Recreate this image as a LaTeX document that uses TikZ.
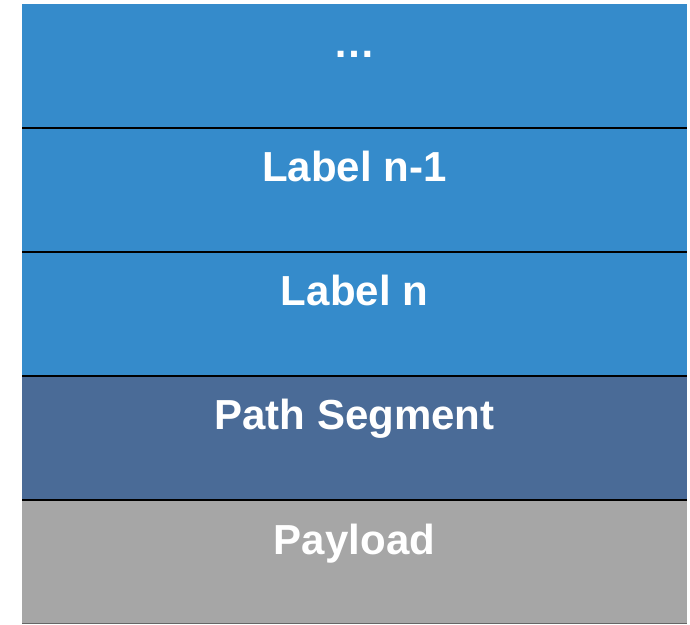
\documentclass[tikz,border=0pt]{standalone}
\usepackage{fontspec}
\setmainfont{Liberation Sans}
\usetikzlibrary{positioning}
\definecolor{labelblue}{HTML}{358BCB}
\definecolor{segblue}{HTML}{4A6B97}
\definecolor{payloadgray}{HTML}{A6A6A6}
\begin{document}
\begin{tikzpicture}[x=1pt,y=1pt,
		layer/.style = {minimum width=665pt, minimum height=124pt, inner sep=0pt, outer sep=0pt},
		layertext/.style = {anchor=base, text=white, font=\fontsize{42}{50}\selectfont\bfseries},
		divider/.style = {line width=1.6pt, black}]
		\useasboundingbox (0,0) rectangle (690,624);
		\node[layer, fill=labelblue, anchor=north west] (dots) at (22,620) {};
		\node[layer, fill=labelblue] (labelnm1) [below=0pt of dots] {};
		\node[layer, fill=labelblue] (labeln) [below=0pt of labelnm1] {};
		\node[layer, fill=segblue] (segment) [below=0pt of labeln] {};
		\node[layer, fill=payloadgray] (payload) [below=0pt of segment] {};
		\node[layertext] at ([yshift=8pt]dots.center) {…};
		\node[layertext] at ([yshift=8pt]labelnm1.center) {Label n-1};
		\node[layertext] at ([yshift=8pt]labeln.center) {Label n};
		\node[layertext] at ([yshift=8pt]segment.center) {Path Segment};
		\node[layertext] at ([yshift=8pt]payload.center) {Payload};
		\draw[divider] (dots.south west) -- (dots.south east);
		\draw[divider] (labelnm1.south west) -- (labelnm1.south east);
		\draw[divider] (labeln.south west) -- (labeln.south east);
		\draw[divider] (segment.south west) -- (segment.south east);
		\draw[gray!120, line width=1pt] ([yshift=0.5pt]payload.south west) -- ([yshift=0.5pt]payload.south east);
	\end{tikzpicture}
\end{document}
